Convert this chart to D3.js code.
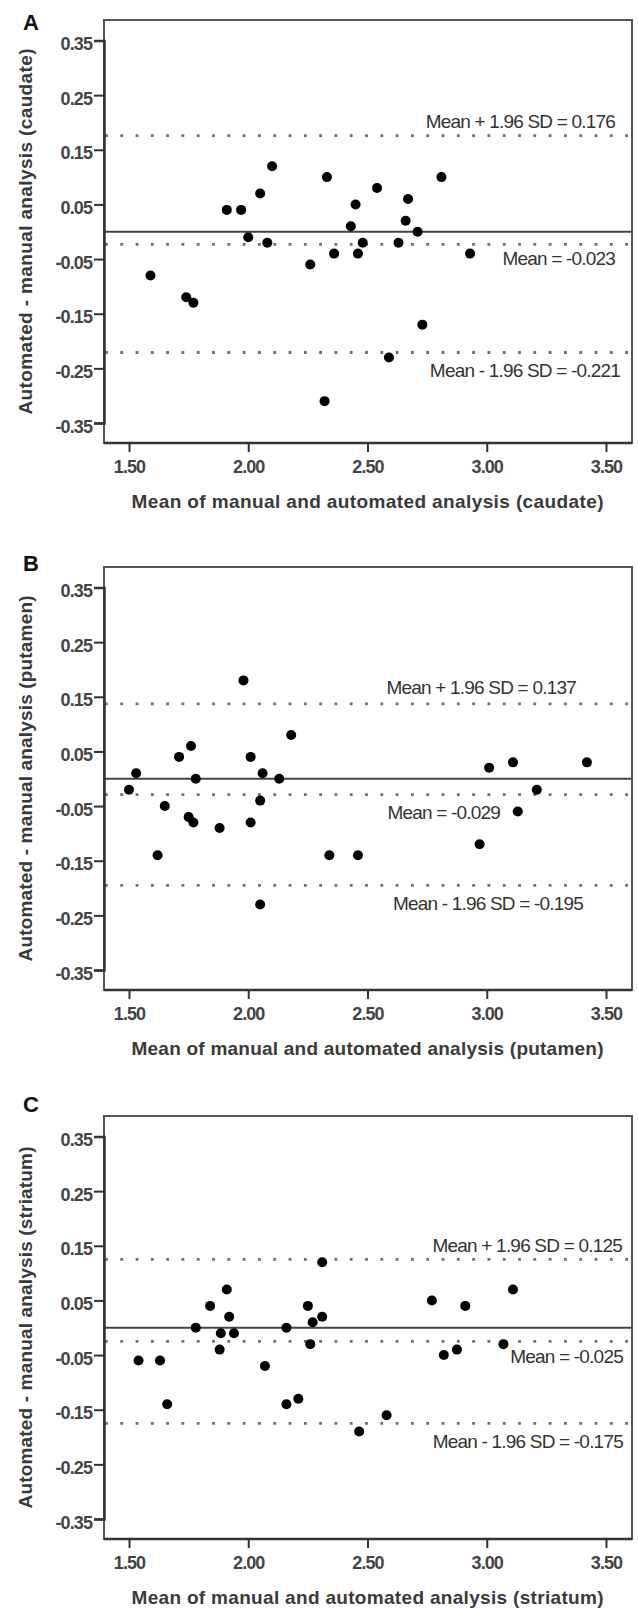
<!DOCTYPE html>
<html>
<head>
<meta charset="utf-8">
<script src="https://cdn.jsdelivr.net/npm/d3@7"></script>
<style>
    body { margin: 0; background: #fff; }
    svg text { font-family: "Liberation Sans", Arial, sans-serif; }
</style>
</head>
<body>
<div id="chart"></div>
<script>
// Panel A - caudate
const caudateMean = [1.59, 1.74, 1.77, 1.91, 1.97, 2.00, 2.05, 2.08, 2.10, 2.26, 2.32, 2.33, 2.36,
    2.43, 2.45, 2.46, 2.48, 2.54, 2.59, 2.63, 2.66, 2.67, 2.71, 2.73, 2.81, 2.93];
const caudateDiff = [-0.08, -0.12, -0.13, 0.04, 0.04, -0.01, 0.07, -0.02, 0.12, -0.06, -0.31, 0.10, -0.04,
    0.01, 0.05, -0.04, -0.02, 0.08, -0.23, -0.02, 0.02, 0.06, 0.00, -0.17, 0.10, -0.04];

// Panel B - putamen
const putamenMean = [1.50, 1.53, 1.62, 1.65, 1.71, 1.75, 1.76, 1.77, 1.78, 1.88, 1.98, 2.01, 2.01,
    2.05, 2.05, 2.06, 2.13, 2.18, 2.34, 2.46, 2.97, 3.01, 3.11, 3.13, 3.21, 3.42];
const putamenDiff = [-0.02, 0.01, -0.14, -0.05, 0.04, -0.07, 0.06, -0.08, 0.00, -0.09, 0.18, 0.04, -0.08,
    -0.04, -0.23, 0.01, 0.00, 0.08, -0.14, -0.14, -0.12, 0.02, 0.03, -0.06, -0.02, 0.03];

// Panel C - striatum
const striatumMean = [1.54, 1.63, 1.66, 1.78, 1.84, 1.88, 1.885, 1.91, 1.92, 1.94, 2.07, 2.16, 2.16, 2.21,
    2.25, 2.26, 2.27, 2.31, 2.31, 2.465, 2.58, 2.77, 2.82, 2.875, 2.91, 3.07, 3.11];
const striatumDiff = [-0.06, -0.06, -0.14, 0.00, 0.04, -0.04, -0.01, 0.07, 0.02, -0.01, -0.07, 0.00, -0.14, -0.13,
    0.04, -0.03, 0.01, 0.12, 0.02, -0.19, -0.16, 0.05, -0.05, -0.04, 0.04, -0.03, 0.07];

const panelLetters = ["A", "B", "C"];
const regionNames = ["caudate", "putamen", "striatum"];
const meanDiffs = [-0.023, -0.029, -0.025];
const upperLimits = [0.176, 0.137, 0.125];
const lowerLimits = [-0.221, -0.195, -0.175];

const xTicks = [1.5, 2.0, 2.5, 3.0, 3.5];
const xTickLabels = ["1.50", "2.00", "2.50", "3.00", "3.50"];
const yTicks = [0.35, 0.25, 0.15, 0.05, -0.05, -0.15, -0.25, -0.35];
const yTickLabels = ["0.35", "0.25", "0.15", "0.05", "-0.05", "-0.15", "-0.25", "-0.35"];

const means = [caudateMean, putamenMean, striatumMean];
const diffs = [caudateDiff, putamenDiff, striatumDiff];

// layout
const W = 638, H = 1610;
const boxLeft = 104, boxW = 528, boxH = 423;
const panelTops = [20, 567, 1116];
const letterBase = [30, 571, 1112];
// where each annotation ends (x in data units) and its offset from its line (px)
const labelEnds = [[3.538, 3.538, 3.559], [3.374, 3.056, 3.404], [3.567, 3.571, 3.571]];
const labelOffsets = [[-15, 14, 17], [-17, 17, 18], [-14, 15, 18]];

const svg = d3.select("#chart").append("svg")
    .attr("width", W)
    .attr("height", H);

const x = d3.scaleLinear().domain([1.5, 3.5]).range([25, 502]);
const y = d3.scaleLinear().domain([0.35, -0.35]).range([20.5, 403]);

panelLetters.forEach((letter, p) => {
    const g = svg.append("g")
        .attr("transform", `translate(${boxLeft},${panelTops[p]})`);

    svg.append("text")
        .attr("x", 23)
        .attr("y", letterBase[p])
        .attr("font-size", 22)
        .attr("font-weight", "bold")
        .attr("fill", "#111")
        .text(letter);

    // reference lines
    const limits = [upperLimits[p], meanDiffs[p], lowerLimits[p]];
    g.selectAll(".loa")
        .data(limits)
        .enter().append("line")
        .attr("x1", 1).attr("x2", boxW)
        .attr("y1", d => y(d)).attr("y2", d => y(d))
        .attr("stroke", "#6e6e6e")
        .attr("stroke-width", 2.8)
        .attr("stroke-dasharray", "2.8 12.5");

    g.append("line")
        .attr("x1", 0).attr("x2", boxW)
        .attr("y1", y(0)).attr("y2", y(0))
        .attr("stroke", "#444")
        .attr("stroke-width", 2);

    const labels = [
        "Mean + 1.96 SD = " + upperLimits[p].toFixed(3),
        "Mean = " + meanDiffs[p].toFixed(3),
        "Mean - 1.96 SD = " + lowerLimits[p].toFixed(3)
    ];
    g.selectAll(".lbl")
        .data(labels)
        .enter().append("text")
        .attr("x", (d, i) => x(labelEnds[p][i]))
        .attr("y", (d, i) => y(limits[i]) + labelOffsets[p][i] + 7)
        .attr("text-anchor", "end")
        .attr("font-size", 19)
        .attr("letter-spacing", -0.8)
        .attr("fill", "#333")
        .text(d => d);

    // frame
    g.append("rect")
        .attr("x", 0).attr("y", 0)
        .attr("width", boxW).attr("height", boxH)
        .attr("fill", "none")
        .attr("stroke", "#555")
        .attr("stroke-width", 2);

    // axes
    const yAxis = g.append("g")
        .call(d3.axisLeft(y).tickValues(yTicks).tickSize(10).tickPadding(2)
            .tickFormat((d, i) => yTickLabels[i]));
    yAxis.select(".domain").attr("stroke", "#333").attr("stroke-width", 2.5);
    yAxis.selectAll(".tick line").attr("stroke", "#333").attr("stroke-width", 2);
    yAxis.selectAll(".tick text")
        .attr("font-size", 18)
        .attr("font-weight", "bold")
        .attr("letter-spacing", -0.9)
        .attr("fill", "#444")
        .attr("dy", "0.5em");

    const xAxis = g.append("g")
        .attr("transform", `translate(0,${boxH})`)
        .call(d3.axisBottom(x).tickValues(xTicks).tickSize(9).tickPadding(8)
            .tickFormat((d, i) => xTickLabels[i]));
    xAxis.select(".domain").remove();
    g.append("line")
        .attr("x1", 0).attr("x2", boxW)
        .attr("y1", boxH).attr("y2", boxH)
        .attr("stroke", "#333").attr("stroke-width", 2.5);
    xAxis.selectAll(".tick line").attr("stroke", "#333").attr("stroke-width", 2);
    xAxis.selectAll(".tick text")
        .attr("font-size", 18)
        .attr("font-weight", "bold")
        .attr("letter-spacing", -0.9)
        .attr("fill", "#444");

    // titles
    g.append("text")
        .attr("x", x(2.5))
        .attr("y", boxH + 65)
        .attr("text-anchor", "middle")
        .attr("font-size", 19)
        .attr("font-weight", "bold")
        .attr("fill", "#3a3a3a")
        .attr("textLength", 472)
        .text(`Mean of manual and automated analysis (${regionNames[p]})`);

    g.append("text")
        .attr("transform", `translate(${32 - boxLeft},${boxH / 2}) rotate(-90)`)
        .attr("text-anchor", "middle")
        .attr("font-size", 19)
        .attr("font-weight", "bold")
        .attr("fill", "#3a3a3a")
        .attr("textLength", p === 2 ? 362 : 366)
        .text(`Automated - manual analysis (${regionNames[p]})`);

    // points
    const pts = means[p].map((m, i) => ({ m: m, d: diffs[p][i] }));
    g.selectAll(".pt")
        .data(pts)
        .enter().append("circle")
        .attr("cx", d => x(d.m))
        .attr("cy", d => y(d.d))
        .attr("r", 5)
        .attr("fill", "#000");
});
</script>
</body>
</html>
